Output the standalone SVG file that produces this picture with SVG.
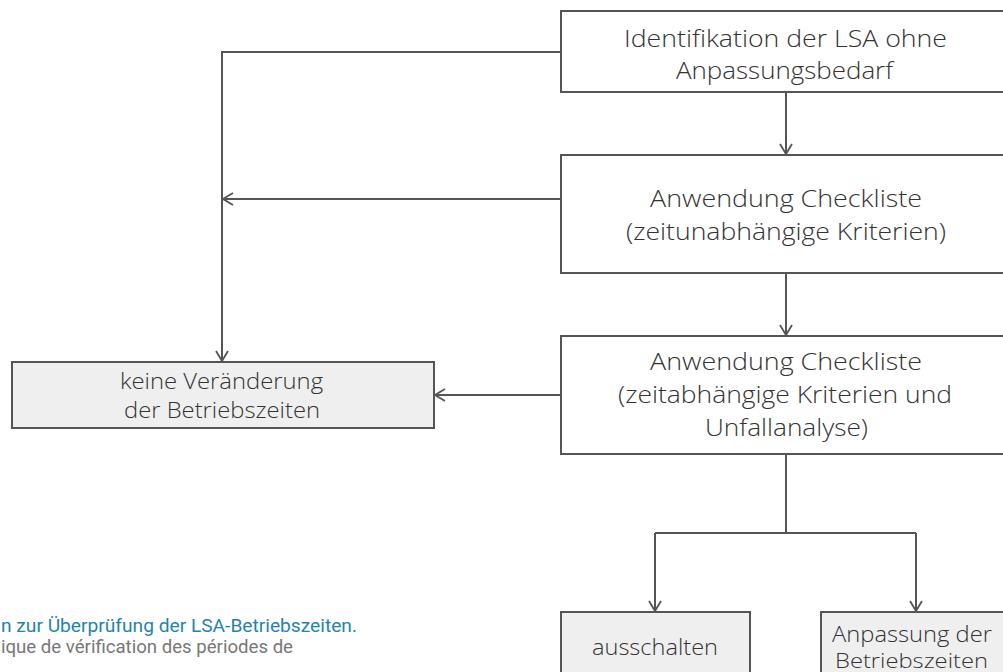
<svg xmlns="http://www.w3.org/2000/svg" width="1003" height="672" viewBox="0 0 1003 672">
<style>
.box{fill:#ffffff;stroke:#555555;stroke-width:2}
.grey{fill:#efefef}
.t{font-family:"Open Sans","Noto Sans","DejaVu Sans",sans-serif;font-size:24px;font-weight:300;fill:#333333;text-anchor:start}
.ts{font-size:21.5px}
.tx{font-size:19.5px}
.c{fill:none;stroke:#555555;stroke-width:2}
.cap{font-family:Roboto,"Liberation Sans",sans-serif;font-size:18px;font-weight:400}
</style>
<defs>
<marker id="ah" viewBox="0 0 12 14" refX="11" refY="7" markerWidth="12" markerHeight="14" markerUnits="userSpaceOnUse" orient="auto">
<path d="M1,1 L11,7 L1,13" fill="none" stroke="#555555" stroke-width="1.8"/>
</marker>
</defs>
<rect width="1003" height="672" fill="#ffffff"/>
<g id="connectors">
<path class="c" d="M561,52 H222 V361" marker-end="url(#ah)"/>
<path class="c" d="M561,199 H223" marker-end="url(#ah)"/>
<path class="c" d="M561,395 H435" marker-end="url(#ah)"/>
<path class="c" d="M786,92 V154" marker-end="url(#ah)"/>
<path class="c" d="M786,273 V335" marker-end="url(#ah)"/>
<path class="c" d="M786,454 V533"/>
<path class="c" d="M655,533 H916"/>
<path class="c" d="M655,533 V611" marker-end="url(#ah)"/>
<path class="c" d="M916,533 V611" marker-end="url(#ah)"/>
</g>
<g id="n1">
<rect class="box" x="561" y="11" width="460" height="81"/>
<text class="t" x="624" y="47" textLength="323" lengthAdjust="spacingAndGlyphs">Identifikation der LSA ohne</text>
<text class="t" x="676" y="79" textLength="217" lengthAdjust="spacingAndGlyphs">Anpassungsbedarf</text>
</g>
<g id="n2">
<rect class="box" x="561" y="155" width="460" height="118"/>
<text class="t" x="650" y="207" textLength="272" lengthAdjust="spacingAndGlyphs">Anwendung Checkliste</text>
<text class="t" x="626" y="240" textLength="320" lengthAdjust="spacingAndGlyphs">(zeitunabhängige Kriterien)</text>
</g>
<g id="n3">
<rect class="box" x="561" y="336" width="460" height="118"/>
<text class="t" x="650" y="370" textLength="272" lengthAdjust="spacingAndGlyphs">Anwendung Checkliste</text>
<text class="t" x="618" y="403" textLength="334" lengthAdjust="spacingAndGlyphs">(zeitabhängige Kriterien und</text>
<text class="t" x="705" y="436" textLength="163" lengthAdjust="spacingAndGlyphs">Unfallanalyse)</text>
</g>
<g id="n4">
<rect class="box grey" x="12" y="362" width="422" height="66"/>
<text class="t ts" x="120" y="389" textLength="203" lengthAdjust="spacingAndGlyphs">keine Veränderung</text>
<text class="t ts" x="124" y="418" textLength="196" lengthAdjust="spacingAndGlyphs">der Betriebszeiten</text>
</g>
<g id="n5">
<rect class="box grey" x="561" y="612" width="189" height="70"/>
<text class="t ts" x="592" y="655" textLength="126" lengthAdjust="spacingAndGlyphs">ausschalten</text>
</g>
<g id="n6">
<rect class="box grey" x="821" y="612" width="200" height="70"/>
<text class="t ts" x="832" y="642" textLength="160" lengthAdjust="spacingAndGlyphs">Anpassung der</text>
<text class="t tx" x="835" y="668" textLength="153" lengthAdjust="spacingAndGlyphs">Betriebszeiten</text>
</g>
<g id="caption">
<text class="cap" x="1" y="632" fill="#1f84ad" textLength="356" lengthAdjust="spacingAndGlyphs">n zur Überprüfung der LSA-Betriebszeiten.</text>
<text class="cap" x="1" y="653" fill="#777777" textLength="292" lengthAdjust="spacingAndGlyphs">ique de vérification des périodes de</text>
</g>
</svg>
